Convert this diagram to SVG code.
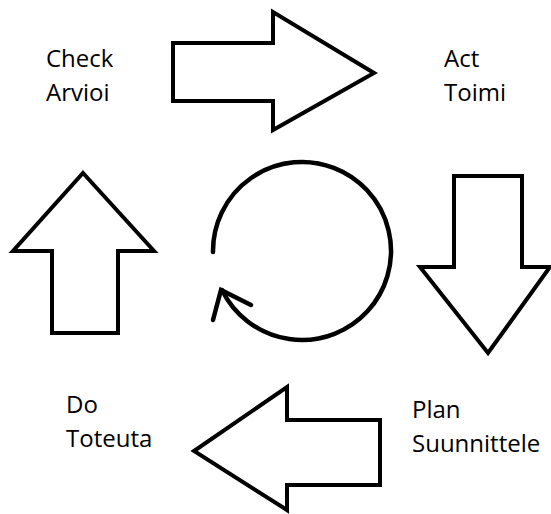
<svg xmlns="http://www.w3.org/2000/svg" width="551" height="514" viewBox="0 0 551 514">
<style>
.arrow{fill:#fff;stroke:#000;stroke-width:4;stroke-linejoin:miter}
.lbl{font-family:"Open Sans","Noto Sans",sans-serif;font-size:24px;fill:#000}
.cyc{fill:none;stroke:#000;stroke-width:4.5;stroke-linecap:round}
</style>
<rect width="551" height="514" fill="#fff"/>
<g id="arrow-right"><polygon class="arrow" points="173,43 273,43 273,12 374,73 273,130 273,101 173,101"/></g>
<g id="arrow-down"><polygon class="arrow" points="454,176 522,176 522,267 550,267 488,353 420,267 454,267"/></g>
<g id="arrow-left"><polygon class="arrow" points="380,420 287,420 287,387 194,451 287,510 287,485 380,485"/></g>
<g id="arrow-up"><polygon class="arrow" points="83,173 154,251 118,251 118,333 52,333 52,251 13,251"/></g>
<g id="connectors">
<path class="cyc" d="M213,252 A89,89 0 1 1 222,290"/>
<path class="cyc" d="M213,320 L221,290 L251,305"/>
</g>
<g id="check"><text class="lbl" x="46" y="67">Check</text><text class="lbl" x="46" y="101">Arvioi</text></g>
<g id="act"><text class="lbl" x="444" y="67">Act</text><text class="lbl" x="444" y="101">Toimi</text></g>
<g id="do"><text class="lbl" x="66" y="413">Do</text><text class="lbl" x="66" y="447">Toteuta</text></g>
<g id="plan"><text class="lbl" x="412" y="418">Plan</text><text class="lbl" x="412" y="452">Suunnittele</text></g>
</svg>
